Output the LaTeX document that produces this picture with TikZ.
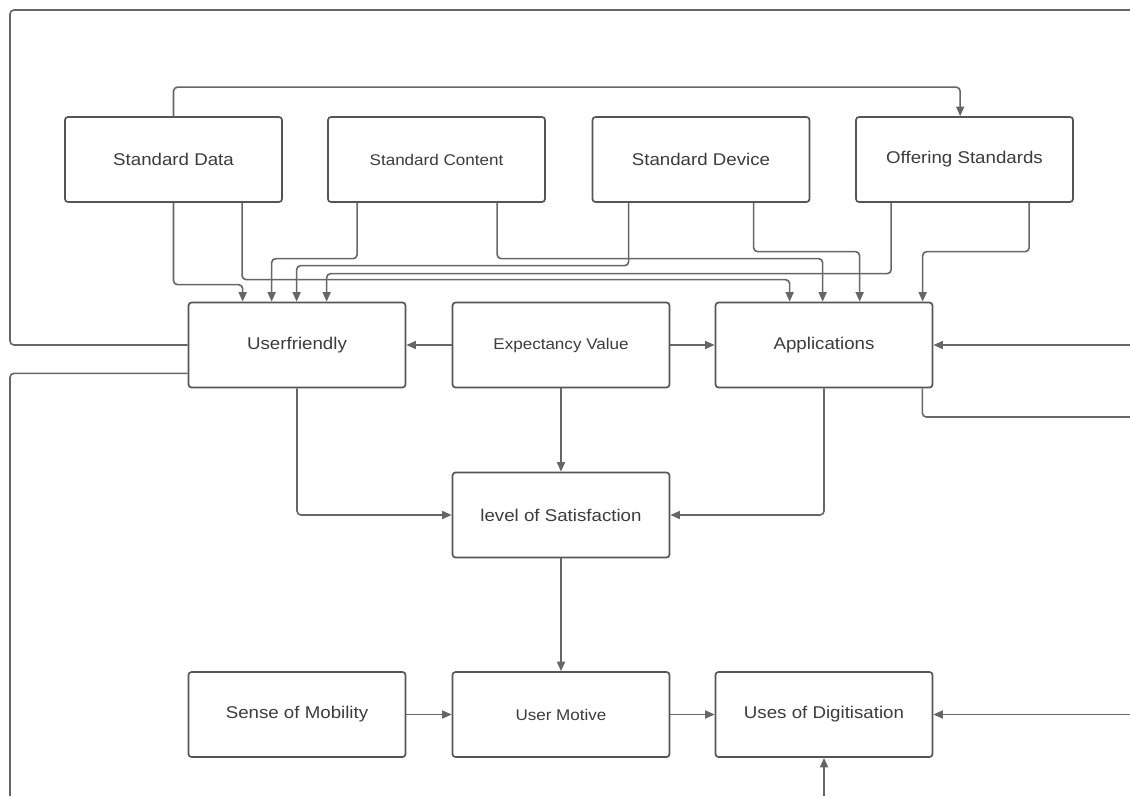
\documentclass[tikz,border=0pt]{standalone}
\usepackage{fontspec}
\setmainfont{Liberation Sans}[FakeStretch=1.1]
\usetikzlibrary{arrows.meta}
\definecolor{linegray}{HTML}{666666}
\definecolor{boxgray}{HTML}{555555}
\definecolor{textgray}{HTML}{3C3C3C}
\tikzset{
  box/.style={draw=boxgray, line width=1.7pt, rounded corners=3pt, fill=white,
    minimum width=217pt, minimum height=85pt, inner sep=0pt, text=textgray,
    font=\fontsize{17}{20}\selectfont},
  smalltext/.style={font=\fontsize{15.5}{18}\selectfont},
  conn/.style={draw=linegray, line width=1.6pt, rounded corners=4pt},
  arr/.style={conn, -{Triangle[length=9.5pt,width=8pt]}}
}
\begin{document}
\begin{tikzpicture}[x=1pt, y=-1pt]
\useasboundingbox (0,0) rectangle (1130,796);
% row 1
\node[box] (sd)   at (173.5,159.5) {Standard Data};
\node[box, smalltext] (sc) at (436.5,159.5) {Standard Content};
\node[box] (sdev) at (701,159.5) {Standard Device};
\node[box] (os)   at (964.5,159.5) {Offering Standards};
% row 2
\node[box] (uf) at (297,345) {Userfriendly};
\node[box, smalltext] (ev) at (561,345) {Expectancy Value};
\node[box] (app) at (824,345) {Applications};
% satisfaction
\node[box] (sat) at (561,515) {level of Satisfaction};
% bottom row
\node[box] (som) at (297,714.5) {Sense of Mobility};
\node[box, smalltext] (um) at (561,714.5) {User Motive};
\node[box] (ud) at (824,714.5) {Uses of Digitisation};

% edge coordinates
\coordinate (eTopR) at (1130,10);
\coordinate (eBotL) at (10,796);
\coordinate (eAppR) at (1130,345);
\coordinate (eAppB) at (1130,417);
\coordinate (eUdR)  at (1130,714.5);
\coordinate (eUdB)  at (824,796);

% top loop Standard Data -> Offering Standards
\draw[arr] (sd.north) |- ([xshift=105pt,yshift=29pt]os.north west) -- ([xshift=105pt]os.north west);

% row 1 -> Userfriendly
\draw[arr] (sd.south) |- ([xshift=55pt,yshift=17pt]uf.north west) -- ([xshift=55pt]uf.north west);
\draw[arr] ([xshift=30pt]sc.south west) |- ([xshift=84pt,yshift=43pt]uf.north west) -- ([xshift=84pt]uf.north west);
\draw[arr] ([xshift=37pt]sdev.south west) |- ([xshift=109pt,yshift=36pt]uf.north west) -- ([xshift=109pt]uf.north west);
\draw[arr] ([xshift=36pt]os.south west) |- ([xshift=139pt,yshift=28pt]uf.north west) -- ([xshift=139pt]uf.north west);

% row 1 -> Applications
\draw[arr] ([xshift=178pt]sd.south west) |- ([xshift=75pt,yshift=22pt]app.north west) -- ([xshift=75pt]app.north west);
\draw[arr] ([xshift=170pt]sc.south west) |- ([xshift=108pt,yshift=43pt]app.north west) -- ([xshift=108pt]app.north west);
\draw[arr] ([xshift=162pt]sdev.south west) |- ([xshift=145pt,yshift=50pt]app.north west) -- ([xshift=145pt]app.north west);
\draw[arr] ([xshift=174pt]os.south west) |- ([xshift=208pt,yshift=50pt]app.north west) -- ([xshift=208pt]app.north west);

% middle
\draw[arr] (ev.west) -- (uf.east);
\draw[arr] (ev.east) -- (app.west);
\draw[arr] (ev.south) -- (sat.north);
\draw[arr] (uf.south) |- (sat.west);
\draw[arr] (app.south) |- (sat.east);
\draw[arr] (sat.south) -- (um.north);

% bottom row
\draw[arr] (som.east) -- (um.west);
\draw[arr] (um.east) -- (ud.west);
\draw[arr] (eUdR) -- (ud.east);
\draw[arr] (eUdB) -- (ud.south);

% right side of Applications
\draw[arr] (eAppR) -- (app.east);
\draw[conn] ([xshift=-11pt]app.south east) |- (eAppB);

% outer loops from Userfriendly
\draw[conn] (uf.west) -| (10,10) -- (eTopR);
\draw[conn] ([yshift=15pt]uf.south west) -| (eBotL);
\end{tikzpicture}
\end{document}
